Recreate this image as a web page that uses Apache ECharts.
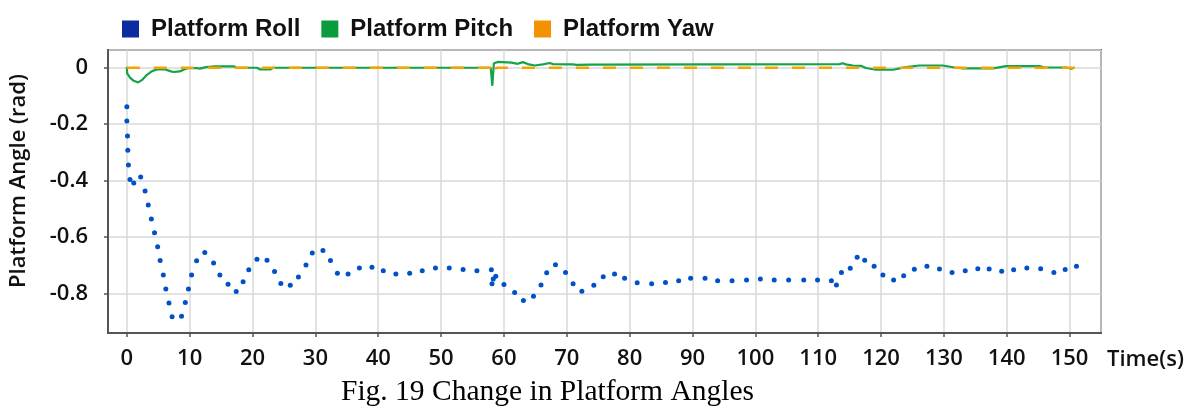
<!DOCTYPE html>
<html>
<head>
<meta charset="utf-8">
<script src="https://cdn.jsdelivr.net/npm/echarts@6/dist/echarts.min.js"></script>
<style>
html,body{margin:0;padding:0;background:#fff;}
#chart{width:1194px;height:413px;}
</style>
</head>
<body>
<div id="chart"></div>
<script>
// ---- data ----
var seriesNames = ['Platform Roll', 'Platform Pitch', 'Platform Yaw'];
var xAxisTitle = 'Time(s)';
var yAxisTitle = 'Platform Angle (rad)';
var caption = 'Fig. 19 Change in Platform Angles';

var rollT = [0,0,0.1,0.15,0.25,0.5,1.1,2.2,2.9,3.4,3.9,4.4,4.9,5.3,5.8,6.2,6.7,7.2,8.7,9.3,9.8,10.3,11.1,12.4,13.8,14.8,16.1,17.4,18.5,19.4,20.7,22.3,23.5,24.5,26.0,27.3,28.5,29.5,31.2,32.4,33.5,35.2,37.0,39.0,40.8,42.8,45.0,47.0,49.1,51.3,53.5,55.7,58.0,58.1,58.3,58.7,60.0,61.7,63.1,64.7,65.9,66.8,68.2,69.8,71.0,72.4,74.3,75.8,77.6,79.2,81.2,83.5,85.7,87.8,89.7,92.0,94.0,96.3,98.6,100.8,103.0,105.3,107.7,109.9,112.1,112.9,113.7,115.1,116.2,117.4,118.9,120.3,122.0,123.6,125.3,127.3,129.3,131.3,133.4,135.4,137.2,139.2,141.1,143.2,145.4,147.5,149.3,151.1];
var rollV = [-0.138,-0.189,-0.242,-0.293,-0.345,-0.396,-0.409,-0.388,-0.437,-0.487,-0.537,-0.585,-0.635,-0.684,-0.735,-0.785,-0.835,-0.883,-0.882,-0.833,-0.785,-0.735,-0.685,-0.655,-0.693,-0.735,-0.768,-0.794,-0.759,-0.717,-0.679,-0.683,-0.723,-0.765,-0.772,-0.742,-0.700,-0.657,-0.648,-0.684,-0.729,-0.732,-0.710,-0.708,-0.720,-0.732,-0.729,-0.720,-0.710,-0.710,-0.716,-0.720,-0.717,-0.766,-0.749,-0.740,-0.769,-0.797,-0.826,-0.811,-0.771,-0.727,-0.699,-0.726,-0.766,-0.793,-0.772,-0.741,-0.732,-0.747,-0.763,-0.766,-0.762,-0.756,-0.747,-0.747,-0.756,-0.756,-0.753,-0.749,-0.753,-0.753,-0.753,-0.753,-0.756,-0.771,-0.726,-0.711,-0.672,-0.683,-0.704,-0.735,-0.753,-0.738,-0.715,-0.704,-0.714,-0.726,-0.720,-0.713,-0.714,-0.722,-0.717,-0.710,-0.713,-0.726,-0.716,-0.704];

var pitchT = [0,0.05,0.5,1.0,1.8,2.5,3.2,4.0,4.8,6.1,6.9,7.4,8.4,9.3,9.9,11.1,11.6,12.6,14.0,17.0,17.5,20.7,21.2,22.8,23.3,57.9,58.15,58.4,59.1,61.2,62.2,63.0,63.8,64.9,66.2,67.3,67.8,71.0,71.5,73.6,73.9,113.4,113.9,114.4,115.5,116.8,117.6,119.2,121.9,124.0,126.1,129.8,131.7,133.0,137.8,139.9,145.2,146.0,149.4,150.5];
var pitchV = [0.003,-0.02,-0.035,-0.045,-0.052,-0.042,-0.025,-0.012,-0.006,-0.006,-0.012,-0.015,-0.013,-0.004,-0.001,-0.001,-0.003,0.002,0.005,0.005,0,0,-0.006,-0.006,0,0,-0.064,0.016,0.021,0.018,0.014,0.020,0.013,0.008,0.012,0.017,0.013,0.012,0.010,0.011,0.013,0.013,0.016,0.012,0.008,0.007,-0.001,-0.007,-0.007,0.002,0.008,0.008,0.001,-0.002,-0.002,0.006,0.006,0.001,0.001,-0.004];

var yawT = [0,57.9,58.2,58.5,59.0,152];
var yawV = [0,0,-0.025,-0.004,0,0];

function pairs(t, v){ var out=[]; for (var i=0;i<t.length;i++) out.push([t[i], v[i]]); return out; }

var chart = echarts.init(document.getElementById('chart'), null, {renderer:'canvas'});
var labelFont = 'Open Sans';
chart.setOption({
  backgroundColor: '#ffffff',
  animation: false,
  legend: {
    left: 117, top: 12,
    itemWidth: 17, itemHeight: 17, itemGap: 21,
    icon: 'rect',
    textStyle: {fontFamily: 'Liberation Sans, Arial, sans-serif', fontSize: 24, fontWeight: 'bold', color: '#111', padding: [0,0,0,7]},
    data: [
      {name: seriesNames[0], itemStyle: {color: '#0a2c9e', opacity: 1}},
      {name: seriesNames[1], itemStyle: {color: '#0b9a3c'}},
      {name: seriesNames[2], itemStyle: {color: '#f39200'}}
    ]
  },
  grid: {left: 108, right: 93, top: 50, bottom: 80, show: true, borderColor: '#555', borderWidth: 2, containLabel: false},
  xAxis: {
    type: 'value', min: -3, max: 155, splitNumber: 16,
    axisLine: {show: true, onZero: false, lineStyle: {color: '#555', width: 2}},
    axisTick: {show: true, length: 4, lineStyle: {color: '#555', width: 1.5}},
    axisLabel: {showMinLabel: false, showMaxLabel: false, margin: 15, fontFamily: labelFont, fontSize: 22, fontWeight: 600, color: '#111'},
    splitLine: {show: true, lineStyle: {color: '#d9d9d9', width: 1.5}}
  },
  yAxis: {
    type: 'value', min: -0.941, max: 0.063, splitNumber: 5,
    axisLine: {show: true, onZero: false, lineStyle: {color: '#555', width: 2}},
    axisTick: {show: true, length: 4, lineStyle: {color: '#555', width: 1.5}},
    axisLabel: {showMinLabel: false, showMaxLabel: false, margin: 20, fontFamily: labelFont, fontSize: 22, fontWeight: 600, color: '#111',
      formatter: function(v){ return v === 0 ? '0' : String(Math.round(v*10)/10); }},
    splitLine: {show: true, lineStyle: {color: '#d9d9d9', width: 1.5}}
  },
  series: [
    {name: seriesNames[0], type: 'scatter', data: pairs(rollT, rollV), symbol: 'circle', symbolSize: 5,
     itemStyle: {color: '#0050c8', opacity: 1}, z: 4},
    {name: seriesNames[1], type: 'line', data: pairs(pitchT, pitchV), showSymbol: false, symbol: 'none',
     lineStyle: {color: '#15a348', width: 2.2}, itemStyle: {color: '#15a348'}, z: 2},
    {name: seriesNames[2], type: 'line', data: pairs(yawT, yawV), showSymbol: false, symbol: 'none',
     lineStyle: {color: '#f7a400', width: 2.5, type: [13, 14]}, itemStyle: {color: '#f7a400'}, z: 3}
  ],
  graphic: [
    {type: 'text', x: 1107, y: 360, style: {text: xAxisTitle, font: '600 22px "Open Sans", sans-serif', fill: '#111', verticalAlign: 'middle'}},
    {type: 'text', x: 19, y: 181, rotation: Math.PI / 2,
     style: {text: yAxisTitle, font: '600 22px "Open Sans", sans-serif', fill: '#111', align: 'center', verticalAlign: 'middle'}},
    {type: 'text', left: 341, top: 377, style: {text: caption, font: '29.5px "Liberation Serif", "Times New Roman", serif', fill: '#000'}}
  ]
});
</script>
</body>
</html>
